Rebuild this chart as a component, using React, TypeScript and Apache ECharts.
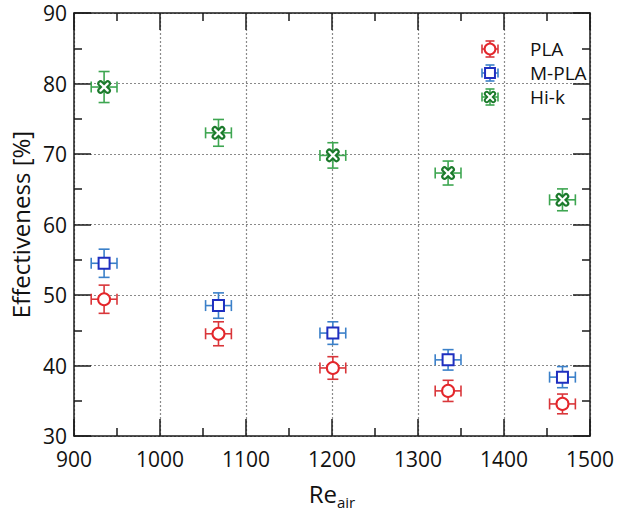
import React, { useEffect, useRef } from "react";
import * as echarts from "echarts";

const xTicks = [900, 1000, 1100, 1200, 1300, 1400, 1500];
const reAir = [935, 1068, 1201, 1335, 1468];
const xErr = [15, 15, 15, 15, 15];
const plaY = [49.4, 44.5, 39.65, 36.4, 34.55];
const plaErr = [2.0, 1.7, 1.6, 1.5, 1.4];
const mplaY = [54.5, 48.5, 44.6, 40.8, 38.35];
const mplaErr = [2.0, 1.8, 1.6, 1.45, 1.5];
const hikY = [79.5, 73.0, 69.8, 67.3, 63.5];
const hikErr = [2.2, 1.9, 1.8, 1.7, 1.55];
const seriesNames = ["PLA", "M-PLA", "Hi-k"];

const STYLES: Record<string, { mark: string; bar: string; kind: string }> = {
  PLA: { mark: "#e4262b", bar: "#d9363a", kind: "circle" },
  "M-PLA": { mark: "#1f2fc0", bar: "#3b80c9", kind: "square" },
  "Hi-k": { mark: "#1c7a2c", bar: "#3ea651", kind: "x" },
};

function markerChildren(kind: string, cx: number, cy: number, color: string, s = 1) {
  if (kind === "circle") {
    return [
      {
        type: "circle",
        shape: { cx, cy, r: 6 * s },
        style: { fill: "#fff", stroke: color, lineWidth: 2 },
      },
    ];
  }
  if (kind === "square") {
    return [
      {
        type: "rect",
        shape: { x: cx - 5.5 * s, y: cy - 5.5 * s, width: 11 * s, height: 11 * s },
        style: { fill: "#fff", stroke: color, lineWidth: 2 },
      },
    ];
  }
  const a = 3.6 * s;
  const xs = (w: number, c: string) => [
    {
      type: "line",
      shape: { x1: cx - a, y1: cy - a, x2: cx + a, y2: cy + a },
      style: { stroke: c, lineWidth: w, lineCap: "round" },
    },
    {
      type: "line",
      shape: { x1: cx - a, y1: cy + a, x2: cx + a, y2: cy - a },
      style: { stroke: c, lineWidth: w, lineCap: "round" },
    },
  ];
  return [...xs(6.5 * s, color), ...xs(2.2 * s, "#fff")];
}

function errorChildren(
  cx: number,
  cy: number,
  xl: number,
  xr: number,
  yt: number,
  yb: number,
  cap: number,
  color: string
) {
  const st = { stroke: color, lineWidth: 1.6 };
  return [
    { type: "line", shape: { x1: xl, y1: cy, x2: xr, y2: cy }, style: st },
    { type: "line", shape: { x1: xl, y1: cy - cap, x2: xl, y2: cy + cap }, style: st },
    { type: "line", shape: { x1: xr, y1: cy - cap, x2: xr, y2: cy + cap }, style: st },
    { type: "line", shape: { x1: cx, y1: yt, x2: cx, y2: yb }, style: st },
    { type: "line", shape: { x1: cx - cap, y1: yt, x2: cx + cap, y2: yt }, style: st },
    { type: "line", shape: { x1: cx - cap, y1: yb, x2: cx + cap, y2: yb }, style: st },
  ];
}

function makeSeries(name: string, ys: number[], yerr: number[]) {
  const s = STYLES[name];
  return {
    type: "custom",
    name,
    clip: false,
    data: reAir.map((x, i) => [x, ys[i], xErr[i], yerr[i]]),
    renderItem: (params: any, api: any) => {
      const x = api.value(0);
      const y = api.value(1);
      const ex = api.value(2);
      const ey = api.value(3);
      const c = api.coord([x, y]);
      const l = api.coord([x - ex, y]);
      const r = api.coord([x + ex, y]);
      const t = api.coord([x, y + ey]);
      const b = api.coord([x, y - ey]);
      return {
        type: "group",
        children: [
          ...errorChildren(c[0], c[1], l[0], r[0], t[1], b[1], 5.5, s.bar),
          ...markerChildren(s.kind, c[0], c[1], s.mark),
        ],
      };
    },
  };
}

export default function App() {
  const ref = useRef<HTMLDivElement>(null);
  useEffect(() => {
    const chart = echarts.init(ref.current!, undefined, { renderer: "svg" });
    const font = "'Open Sans', 'Noto Sans', sans-serif";
    const axisLine = { show: true, lineStyle: { color: "#1a1a1a", width: 1.5 } };
    const tick = { show: true, inside: true, length: 17, lineStyle: { color: "#1a1a1a", width: 1.5 } };
    const minor = { show: true, splitNumber: 2, length: 8, lineStyle: { color: "#1a1a1a", width: 1.5 } };
    const split = { show: true, lineStyle: { color: "#8a8a8a", type: [2, 2], width: 1.2 } };

    const legendYs = [49, 73, 97];
    const legendGraphics: any[] = [];
    seriesNames.forEach((n, i) => {
      const s = STYLES[n];
      const cx = 490;
      const cy = legendYs[i];
      legendGraphics.push({
        type: "group",
        children: [
          ...errorChildren(cx, cy, cx - 8, cx + 8, cy - 8, cy + 8, 4.5, s.bar),
          ...markerChildren(s.kind, cx, cy, s.mark, 0.9),
        ],
      });
      legendGraphics.push({
        type: "text",
        x: 530,
        y: cy,
        style: {
          text: n,
          fontSize: 19,
          lineHeight: 20,
          fontFamily: font,
          fill: "#111",
          verticalAlign: "middle",
          textAlign: "left",
        },
      });
    });

    chart.setOption({
      animation: false,
      backgroundColor: "#fff",
      grid: { left: 74, right: 10, top: 13, bottom: 71 },
      xAxis: [
        {
          type: "value",
          min: xTicks[0],
          max: xTicks[xTicks.length - 1],
          interval: 100,
          position: "bottom",
          axisLine,
          axisTick: tick,
          minorTick: minor,
          splitLine: split,
          axisLabel: {
            fontSize: 21,
            lineHeight: 22,
            fontFamily: font,
            color: "#111",
            margin: 12,
            formatter: (v: number) => String(v),
          },
          name: "{a|Re}{b|air}",
          nameLocation: "middle",
          nameGap: 45,
          nameTextStyle: {
            rich: {
              a: { fontSize: 24, fontFamily: font, color: "#111", verticalAlign: "bottom" },
              b: { fontSize: 15, fontFamily: font, color: "#111", verticalAlign: "bottom", padding: [0, 0, -4, 0] },
            },
          },
        },
        {
          type: "value",
          min: xTicks[0],
          max: xTicks[xTicks.length - 1],
          interval: 100,
          position: "top",
          axisLine,
          axisTick: tick,
          minorTick: minor,
          splitLine: { show: false },
          axisLabel: { show: false },
        },
      ],
      yAxis: [
        {
          type: "value",
          min: 30,
          max: 90,
          interval: 10,
          position: "left",
          axisLine,
          axisTick: tick,
          minorTick: minor,
          splitLine: split,
          axisLabel: { fontSize: 21, lineHeight: 20, fontFamily: font, color: "#111", margin: 7 },
          name: "Effectiveness [%]",
          nameLocation: "middle",
          nameGap: 40,
          nameTextStyle: { fontSize: 24, fontFamily: font, color: "#111" },
        },
        {
          type: "value",
          min: 30,
          max: 90,
          interval: 10,
          position: "right",
          axisLine,
          axisTick: tick,
          minorTick: minor,
          splitLine: { show: false },
          axisLabel: { show: false },
        },
      ],
      series: [
        makeSeries("PLA", plaY, plaErr),
        makeSeries("M-PLA", mplaY, mplaErr),
        makeSeries("Hi-k", hikY, hikErr),
      ],
      graphic: legendGraphics,
    });
    return () => chart.dispose();
  }, []);
  return <div ref={ref} style={{ width: 617, height: 514, position: "absolute", left: 0, top: 0 }} />;
}
